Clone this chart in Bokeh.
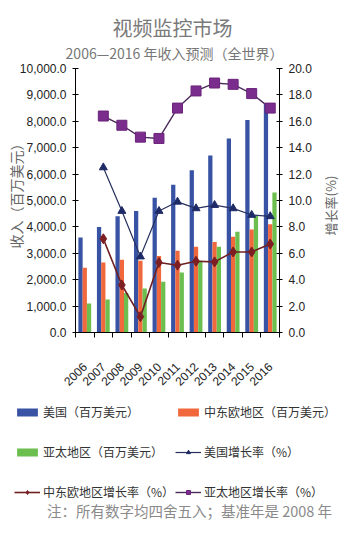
import math
from bokeh.plotting import figure
from bokeh.models import (Range1d, LinearAxis, FixedTicker, NumeralTickFormatter,
                          Label, Legend, LegendItem)
from bokeh.embed import file_html
from bokeh.resources import INLINE

years = ["2006", "2007", "2008", "2009", "2010", "2011", "2012", "2013", "2014", "2015", "2016"]
us_rev = [3600, 4000, 4400, 4600, 5100, 5600, 6150, 6700, 7350, 8050, 8650]
eme_rev = [2450, 2650, 2760, 2720, 2900, 3100, 3250, 3430, 3630, 3900, 4100]
apac_rev = [1100, 1250, 1500, 1670, 1920, 2270, 2720, 3250, 3820, 4420, 5300]
growth_years = years[1:]
us_growth = [12.5, 9.2, 5.75, 9.2, 9.9, 9.4, 9.65, 9.4, 8.9, 8.8]
eme_growth = [7.1, 3.6, 1.2, 5.3, 5.1, 5.4, 5.35, 6.1, 6.1, 6.7]
apac_growth = [16.4, 15.7, 14.8, 14.7, 17.0, 18.3, 18.9, 18.8, 18.1, 17.0]
rev_ticks = [0, 1000, 2000, 3000, 4000, 5000, 6000, 7000, 8000, 9000, 10000]
growth_ticks = [0, 2, 4, 6, 8, 10, 12, 14, 16, 18, 20]
REV_MAX, GROWTH_MAX = 10000, 20

NUM_FONT = "'Liberation Sans Narrow', 'Liberation Sans', Arial, sans-serif"
CJK_FONT = "'Noto Sans CJK SC', sans-serif"
C_US, C_EME, C_AP = "#3953a4", "#f0683b", "#6cbf4e"
C_USG, C_EMEG, C_APG = "#1f2b66", "#7d1e22", "#7b2d8e"

# canvas and plotting-area geometry (pixels)
W, H = 342, 520
PL, PR, PT, PB = 75, 279, 68, 332

n = len(years)
xi = list(range(n))
gxi = [years.index(y) for y in growth_years]
bw = 0.23

ppx = (PR - PL) / n
x0 = -0.5 - PL / ppx
ppy = (PB - PT) / REV_MAX
y0 = -(H - PB) / ppy
ppg = (PB - PT) / GROWTH_MAX
g0 = -(H - PB) / ppg

p = figure(width=W, height=H, output_backend="svg", toolbar_location=None,
           x_range=Range1d(x0, x0 + W / ppx), y_range=Range1d(y0, y0 + H / ppy),
           x_axis_location=None, y_axis_location=None,
           min_border=0, min_border_left=0, min_border_right=0,
           min_border_top=0, min_border_bottom=0)
p.outline_line_color = None
p.grid.visible = False
p.extra_y_ranges = {"g": Range1d(g0, g0 + H / ppg)}

r_us = p.vbar(x=[x - bw for x in xi], top=us_rev, width=bw, fill_color=C_US, line_color=None)
r_eme = p.vbar(x=xi, top=eme_rev, width=bw, fill_color=C_EME, line_color=None)
r_ap = p.vbar(x=[x + bw for x in xi], top=apac_rev, width=bw, fill_color=C_AP, line_color=None)

l_us = p.line(gxi, us_growth, y_range_name="g", line_color="#27305e", line_width=1.2)
m_us = p.scatter(gxi, us_growth, y_range_name="g", marker="triangle", size=8,
                 fill_color=C_USG, line_color=C_USG)
l_eme = p.line(gxi, eme_growth, y_range_name="g", line_color="#6e1f22", line_width=1.6)
m_eme = p.scatter(gxi, eme_growth, y_range_name="g", marker="diamond", size=10,
                  fill_color=C_EMEG, line_color=C_EMEG)
l_ap = p.line(gxi, apac_growth, y_range_name="g", line_color="#4b2a5a", line_width=1.4)
m_ap = p.scatter(gxi, apac_growth, y_range_name="g", marker="square", size=10,
                 fill_color=C_APG, line_color="#6a2479")


def style_axis(ax):
    ax.axis_line_color = "black"
    ax.major_tick_line_color = "black"
    ax.minor_tick_line_color = None
    ax.major_tick_in = 3
    ax.major_tick_out = 3
    ax.major_label_text_font = NUM_FONT
    ax.major_label_text_font_size = "12px"
    ax.major_label_text_color = "#222222"


ya = LinearAxis(fixed_location=-0.5, bounds=(0, REV_MAX), ticker=FixedTicker(ticks=rev_ticks),
                formatter=NumeralTickFormatter(format="0,0.0"))
style_axis(ya)
ya.major_label_standoff = 6
p.add_layout(ya, "left")

ra = LinearAxis(y_range_name="g", fixed_location=n - 0.5, bounds=(0, GROWTH_MAX),
                ticker=FixedTicker(ticks=growth_ticks), formatter=NumeralTickFormatter(format="0.0"))
style_axis(ra)
ra.major_label_standoff = 6
p.add_layout(ra, "right")

xa = LinearAxis(fixed_location=0, bounds=(-0.5, n - 0.5),
                ticker=FixedTicker(ticks=xi, minor_ticks=[x - 0.5 for x in xi] + [n - 0.5]))
style_axis(xa)
xa.major_label_overrides = {i: y for i, y in enumerate(years)}
xa.major_tick_line_color = None
xa.major_tick_in = 0
xa.major_tick_out = 0
xa.minor_tick_line_color = "black"
xa.minor_tick_in = 0
xa.minor_tick_out = 5
xa.major_label_orientation = math.pi / 4
xa.major_label_standoff = 27
p.add_layout(xa, "below")


def make_legend(items, x):
    leg = Legend(items=items, orientation="vertical", location=(x, 9),
                 label_text_font=CJK_FONT, label_text_font_size="12px",
                 label_text_color="#333333", glyph_width=26, glyph_height=10,
                 spacing=1, label_height=39, label_standoff=3, padding=0, margin=0,
                 border_line_color=None, background_fill_alpha=0)
    p.add_layout(leg)


make_legend([
    LegendItem(label="美国（百万美元）", renderers=[r_us]),
    LegendItem(label="亚太地区（百万美元）", renderers=[r_ap]),
    LegendItem(label="中东欧地区增长率（%）", renderers=[l_eme, m_eme]),
], 14)
make_legend([
    LegendItem(label="中东欧地区（百万美元）", renderers=[r_eme]),
    LegendItem(label="美国增长率（%）", renderers=[l_us, m_us]),
    LegendItem(label="亚太地区增长率（%）", renderers=[l_ap, m_ap]),
], 175)


def screen_label(text, x, y, size, color, angle=0.0, baseline="middle"):
    p.add_layout(Label(text=text, x=x, y=y, x_units="screen", y_units="screen",
                       angle=angle, text_align="center", text_baseline=baseline,
                       text_font=CJK_FONT, text_font_size=size, text_color=color))


screen_label("视频监控市场", 172, H - 27, "20px", "#7a7a7a")
screen_label("2006—2016 年收入预测（全世界）", 174, H - 52, "14px", "#777777")
screen_label("收入（百万美元）", 15, H - 192, "14px", "#666666", angle=math.pi / 2)
screen_label("增长率(%)", 330, H - 205, "13px", "#666666", angle=math.pi / 2)
screen_label("注：所有数字均四舍五入；基准年是 2008 年", 189, 0, "14.5px", "#8a8a8a",
             baseline="bottom")

open("out.html", "w").write(file_html(p, INLINE))
